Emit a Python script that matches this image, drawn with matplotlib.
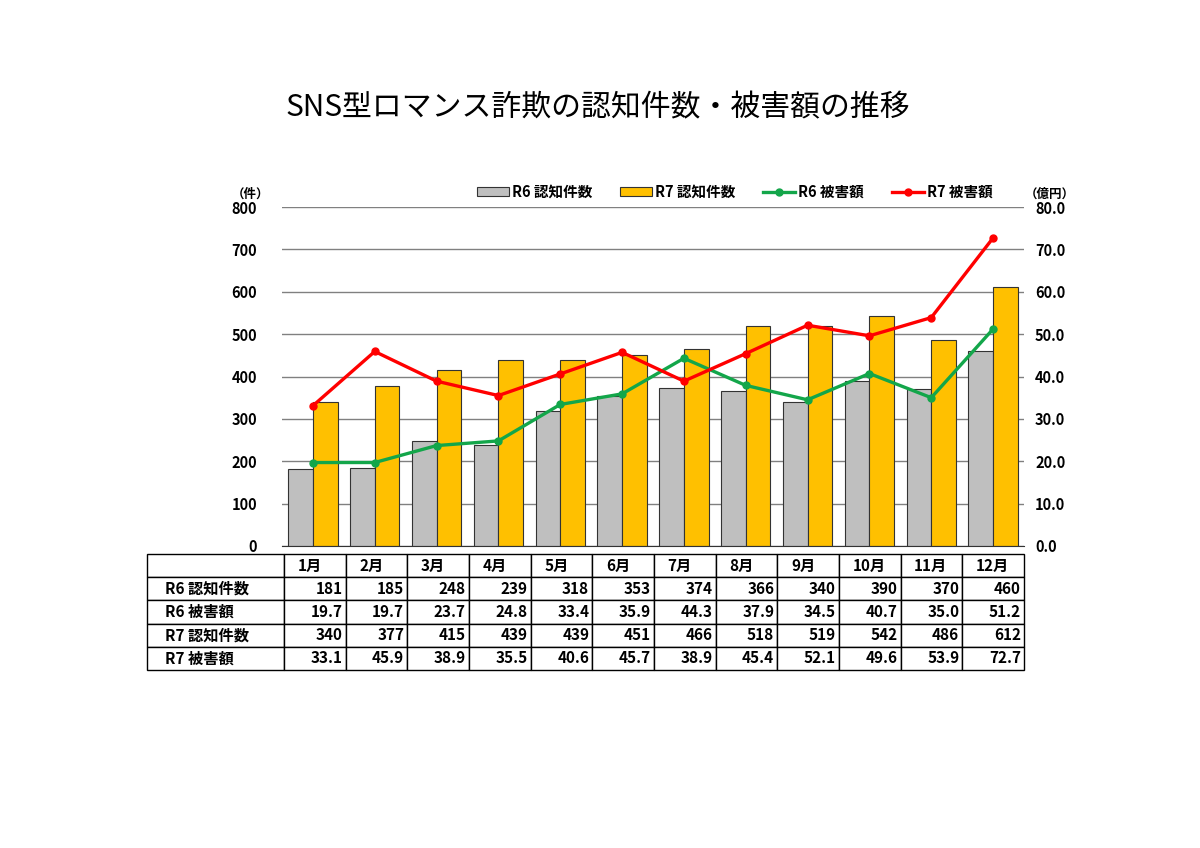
import matplotlib
matplotlib.use("Agg")
import matplotlib.pyplot as plt
import numpy as np

plt.rcParams['font.family'] = ['Noto Sans CJK JP', 'DejaVu Sans']
plt.rcParams['font.weight'] = 'bold'

months = ['1月', '2月', '3月', '4月', '5月', '6月', '7月', '8月', '9月', '10月', '11月', '12月']
r6_count = [181, 185, 248, 239, 318, 353, 374, 366, 340, 390, 370, 460]
r6_damage = [19.7, 19.7, 23.7, 24.8, 33.4, 35.9, 44.3, 37.9, 34.5, 40.7, 35.0, 51.2]
r7_count = [340, 377, 415, 439, 439, 451, 466, 518, 519, 542, 486, 612]
r7_damage = [33.1, 45.9, 38.9, 35.5, 40.6, 45.7, 38.9, 45.4, 52.1, 49.6, 53.9, 72.7]

c_gray = '#BFBFBF'
c_gold = '#FFC000'
c_green = '#13A64A'
c_red = '#FF0000'

W, H = 1200, 848
fig = plt.figure(figsize=(12, 8.48), dpi=100)

# main chart
ax = fig.add_axes([282 / W, 1 - 546 / H, 742 / W, 339 / H])
x = np.arange(len(months))
bw = 0.4
b1 = ax.bar(x - bw / 2, r6_count, bw, color=c_gray, edgecolor='#333333', linewidth=0.8, label='R6 認知件数', zorder=2)
b2 = ax.bar(x + bw / 2, r7_count, bw, color=c_gold, edgecolor='#333333', linewidth=0.8, label='R7 認知件数', zorder=2)
ax.set_xlim(-0.5, len(months) - 0.5)
ax.set_ylim(0, 800)
ax.set_yticks(range(0, 801, 100))
ax.set_xticks([])
ax.grid(axis='y', color='#808080', linewidth=1, zorder=0)
for s in ['top', 'left', 'right']:
    ax.spines[s].set_visible(False)
ax.spines['bottom'].set_color('#333333')
ax.tick_params(axis='y', length=0, labelsize=10.5, pad=18)
for t in ax.get_yticklabels():
    t.set_fontweight('bold')

ax2 = ax.twinx()
l1, = ax2.plot(x, r6_damage, color=c_green, linewidth=2.4, marker='o', markersize=5, label='R6 被害額', zorder=3)
l2, = ax2.plot(x, r7_damage, color=c_red, linewidth=2.4, marker='o', markersize=5, label='R7 被害額', zorder=3)
ax2.set_ylim(0, 80)
ax2.set_yticks(range(0, 81, 10))
ax2.set_yticklabels([f'{v:.1f}' for v in range(0, 81, 10)], fontweight='bold')
ax2.tick_params(axis='y', length=0, labelsize=10.5, pad=8)
for s in ['top', 'left', 'right', 'bottom']:
    ax2.spines[s].set_visible(False)

ax.legend(handles=[b1, b2, l1, l2], loc='center', bbox_to_anchor=(0.61, 1.045), ncol=4,
          frameon=False, handlelength=2.2, handleheight=0.6, columnspacing=1.9,
          handletextpad=0.2, prop={'weight': 'bold', 'size': 10.5})

fig.text(250 / W, 1 - 194 / H, '（件）', ha='center', va='center', fontsize=9, fontweight='bold')
fig.text(1050 / W, 1 - 194 / H, '（億円）', ha='center', va='center', fontsize=9, fontweight='bold')

fig.text(598 / W, 1 - 108 / H, 'SNS型ロマンス詐欺の認知件数・被害額の推移', ha='center', va='center',
         fontsize=21.5, fontweight='normal')

# data table
tax = fig.add_axes([147 / W, 1 - 670 / H, 877 / W, 116 / H])
tax.axis('off')
rows = [
    [''] + months,
    ['R6 認知件数'] + [str(v) for v in r6_count],
    ['R6 被害額'] + [f'{v:.1f}' for v in r6_damage],
    ['R7 認知件数'] + [str(v) for v in r7_count],
    ['R7 被害額'] + [f'{v:.1f}' for v in r7_damage],
]
first_w = 137 / 877
other_w = (1 - first_w) / 12
tbl = tax.table(cellText=rows, colWidths=[first_w] + [other_w] * 12, bbox=[0, 0, 1, 1])
tbl.auto_set_font_size(False)
for (r, c), cell in tbl.get_celld().items():
    cell.set_edgecolor('black')
    cell.set_linewidth(1)
    txt = cell.get_text()
    txt.set_fontsize(11)
    txt.set_fontweight('bold')
    if r == 0 or c == 0:
        cell._loc = 'left'
        txt.set_ha('left')
        cell.PAD = 0.13 if c == 0 else 0.22
    else:
        cell._loc = 'right'
        txt.set_ha('right')
        cell.PAD = 0.05

fig.savefig('out.png', dpi=100)
